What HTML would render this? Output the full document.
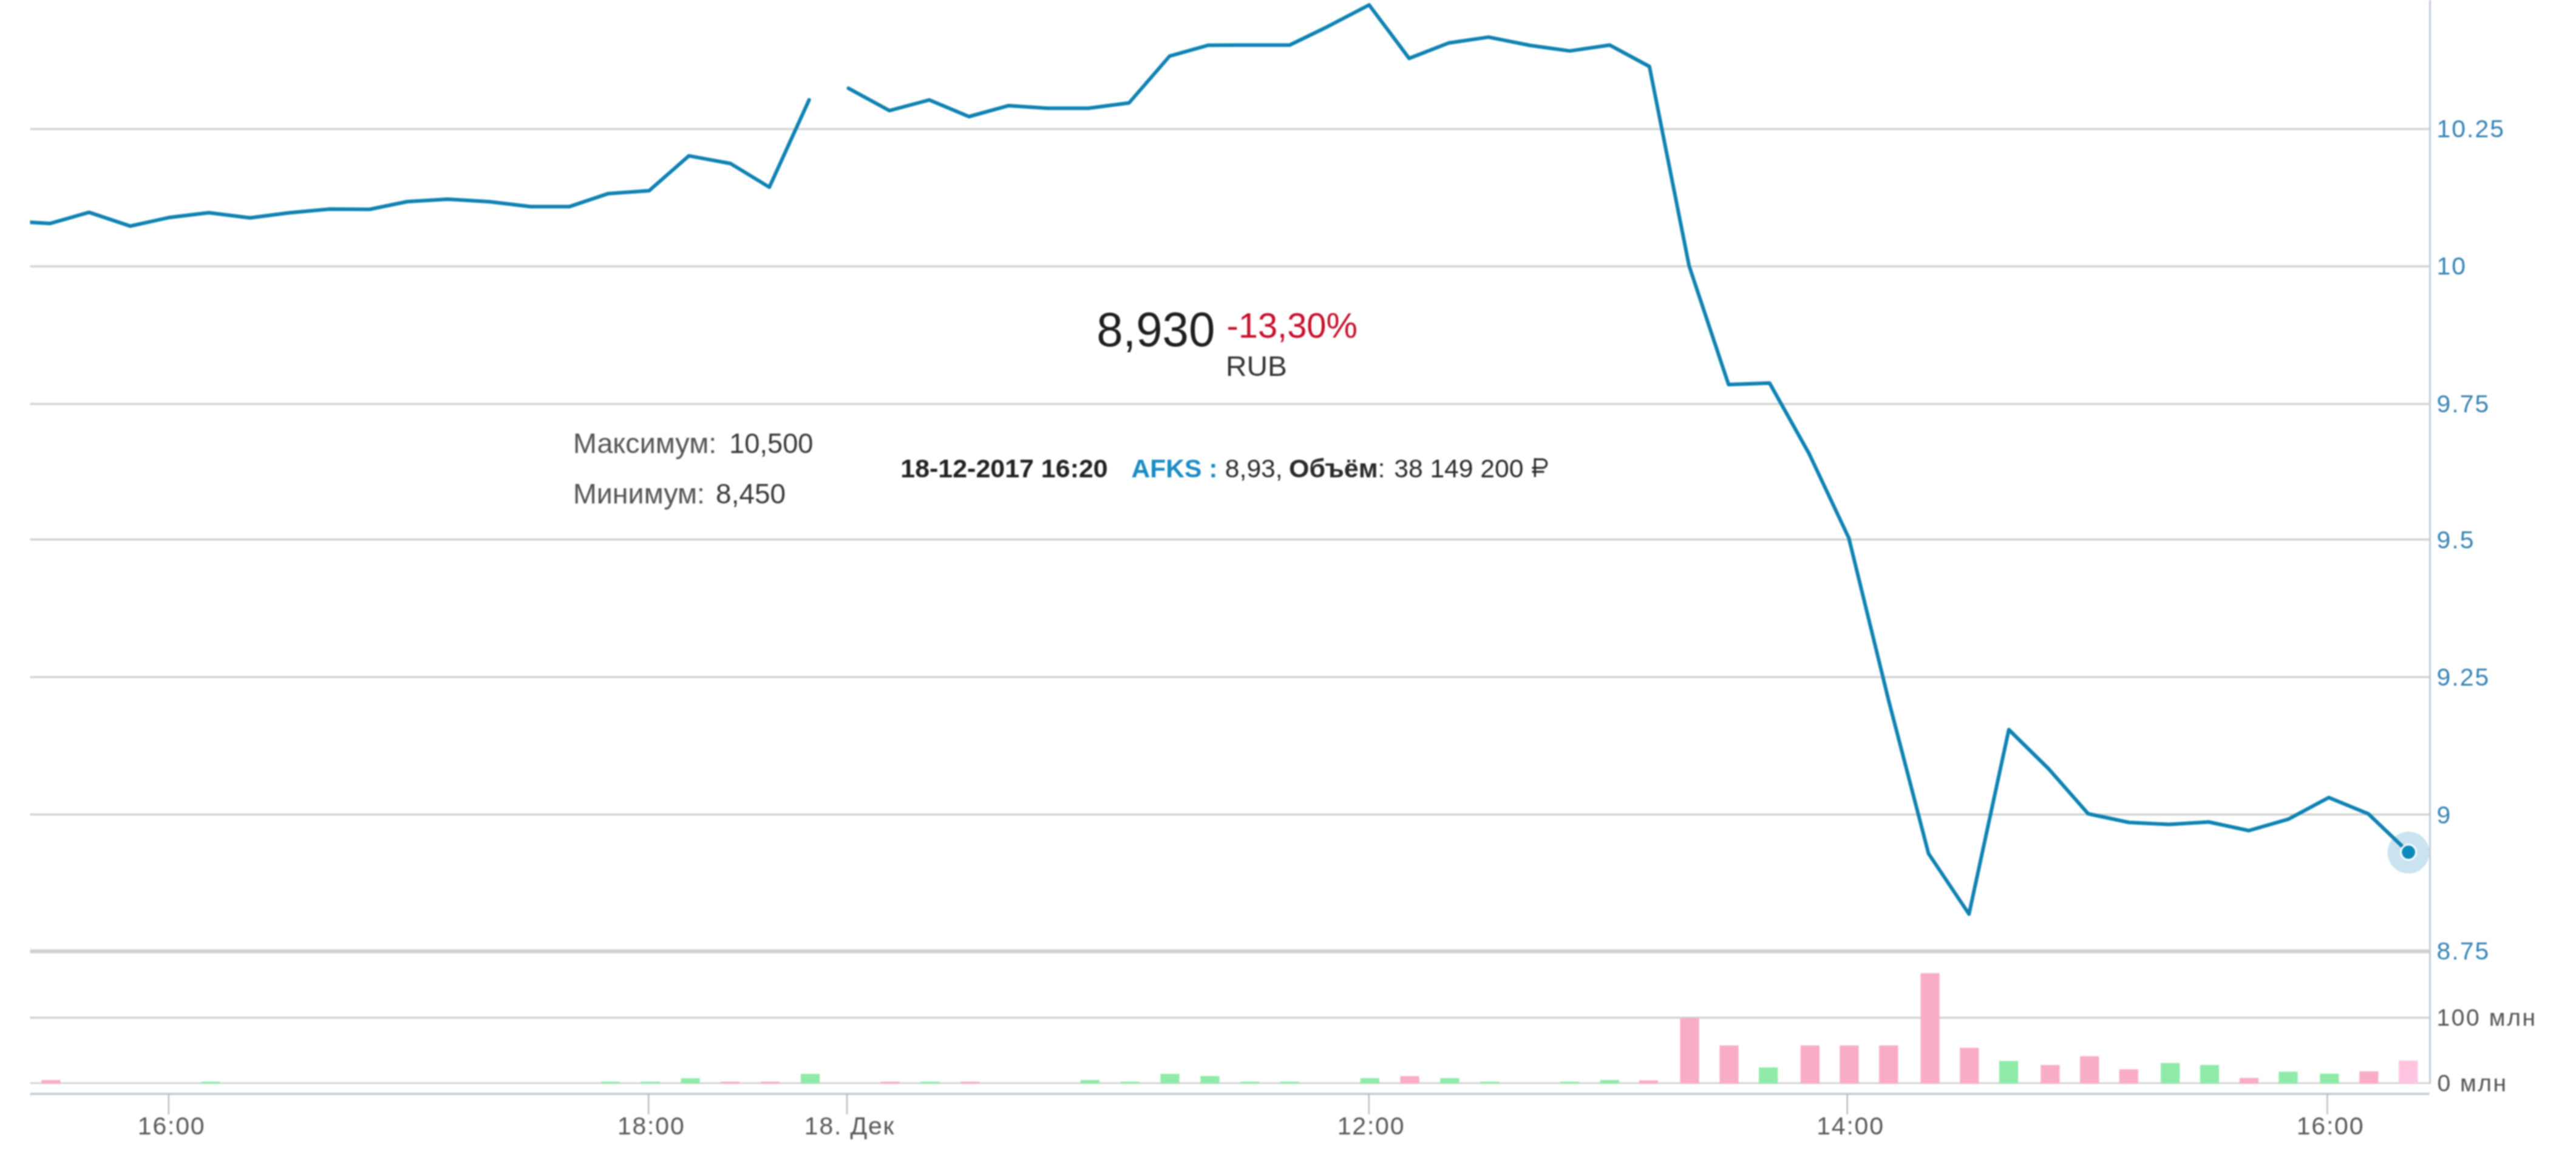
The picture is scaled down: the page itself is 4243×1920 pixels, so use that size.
<!DOCTYPE html>
<html><head><meta charset="utf-8"><title>AFKS chart</title>
<style>html,body{margin:0;padding:0;background:#fff;overflow:hidden}svg{display:block;filter:blur(0.9px)}</style>
</head><body>
<svg width="4243" height="1920" viewBox="0 0 4243 1920">
<rect x="0" y="0" width="4243" height="1920" fill="#ffffff"/>
<rect x="49.5" y="210.8" width="3953.0" height="3.4" fill="#d2d2d2"/>
<rect x="49.5" y="436.9" width="3953.0" height="3.4" fill="#d2d2d2"/>
<rect x="49.5" y="663.5" width="3953.0" height="3.4" fill="#d2d2d2"/>
<rect x="49.5" y="886.7" width="3953.0" height="3.4" fill="#d2d2d2"/>
<rect x="49.5" y="1113.2" width="3953.0" height="3.4" fill="#d2d2d2"/>
<rect x="49.5" y="1339.5" width="3953.0" height="3.4" fill="#d2d2d2"/>
<rect x="49.5" y="1563.4" width="3953.0" height="6.2" fill="#d0d0d0"/>
<rect x="49.5" y="1674.1" width="3953.0" height="3.4" fill="#d2d2d2"/>
<rect x="49.5" y="1782" width="3953.0" height="3" fill="#d6d6d6"/>
<rect x="68.2" y="1778.5" width="31.2" height="6.0" fill="#f9acc8"/>
<rect x="331.5" y="1781.2" width="31.2" height="3.3" fill="#90eaa8"/>
<rect x="989.8" y="1781.2" width="31.2" height="3.3" fill="#90eaa8"/>
<rect x="1055.7" y="1781.2" width="31.2" height="3.3" fill="#90eaa8"/>
<rect x="1121.5" y="1775.5" width="31.2" height="9.0" fill="#90eaa8"/>
<rect x="1187.3" y="1781.2" width="31.2" height="3.3" fill="#f9acc8"/>
<rect x="1253.1" y="1781.2" width="31.2" height="3.3" fill="#f9acc8"/>
<rect x="1319.0" y="1768.3" width="31.2" height="16.2" fill="#90eaa8"/>
<rect x="1450.6" y="1781.2" width="31.2" height="3.3" fill="#f9acc8"/>
<rect x="1516.5" y="1781.2" width="31.2" height="3.3" fill="#90eaa8"/>
<rect x="1582.3" y="1781.2" width="31.2" height="3.3" fill="#f9acc8"/>
<rect x="1779.8" y="1778.4" width="31.2" height="6.1" fill="#90eaa8"/>
<rect x="1845.6" y="1781.2" width="31.2" height="3.3" fill="#90eaa8"/>
<rect x="1911.4" y="1768.3" width="31.2" height="16.2" fill="#90eaa8"/>
<rect x="1977.3" y="1771.9" width="31.2" height="12.6" fill="#90eaa8"/>
<rect x="2043.1" y="1781.2" width="31.2" height="3.3" fill="#90eaa8"/>
<rect x="2108.9" y="1781.2" width="31.2" height="3.3" fill="#90eaa8"/>
<rect x="2240.6" y="1775.3" width="31.2" height="9.2" fill="#90eaa8"/>
<rect x="2306.4" y="1771.9" width="31.2" height="12.6" fill="#f9acc8"/>
<rect x="2372.2" y="1775.3" width="31.2" height="9.2" fill="#90eaa8"/>
<rect x="2438.1" y="1781.2" width="31.2" height="3.3" fill="#90eaa8"/>
<rect x="2569.7" y="1781.2" width="31.2" height="3.3" fill="#90eaa8"/>
<rect x="2635.6" y="1778.4" width="31.2" height="6.1" fill="#90eaa8"/>
<rect x="2699.8" y="1779.0" width="31.2" height="5.5" fill="#f9acc8"/>
<rect x="2767.4" y="1676.0" width="31.2" height="108.5" fill="#f9acc8"/>
<rect x="2832.4" y="1721.4" width="31.2" height="63.1" fill="#f9acc8"/>
<rect x="2897.1" y="1757.6" width="31.2" height="26.9" fill="#90eaa8"/>
<rect x="2965.8" y="1721.4" width="31.2" height="63.1" fill="#f9acc8"/>
<rect x="3030.3" y="1721.4" width="31.2" height="63.1" fill="#f9acc8"/>
<rect x="3095.1" y="1721.4" width="31.2" height="63.1" fill="#f9acc8"/>
<rect x="3163.5" y="1602.5" width="31.2" height="182.0" fill="#f9acc8"/>
<rect x="3228.2" y="1725.3" width="31.2" height="59.2" fill="#f9acc8"/>
<rect x="3292.9" y="1747.0" width="31.2" height="37.5" fill="#90eaa8"/>
<rect x="3361.3" y="1753.7" width="31.2" height="30.8" fill="#f9acc8"/>
<rect x="3426.1" y="1739.2" width="31.2" height="45.3" fill="#f9acc8"/>
<rect x="3490.6" y="1760.8" width="31.2" height="23.7" fill="#f9acc8"/>
<rect x="3559.1" y="1750.4" width="31.2" height="34.1" fill="#90eaa8"/>
<rect x="3623.8" y="1753.7" width="31.2" height="30.8" fill="#90eaa8"/>
<rect x="3688.8" y="1775.0" width="31.2" height="9.5" fill="#f9acc8"/>
<rect x="3753.3" y="1764.7" width="31.2" height="19.8" fill="#90eaa8"/>
<rect x="3821.2" y="1768.0" width="31.2" height="16.5" fill="#90eaa8"/>
<rect x="3886.2" y="1764.1" width="31.2" height="20.4" fill="#f9acc8"/>
<rect x="3951.2" y="1746.4" width="31.2" height="38.1" fill="#ffc4df"/>
<rect x="4001.0" y="0" width="3" height="1785" fill="#c4ccd6"/>
<rect x="49.5" y="1799.5" width="3952.0" height="3.6" fill="#c3cad3"/>
<rect x="276.6" y="1801" width="2.5" height="34" fill="#b9bec6"/>
<rect x="1067.0" y="1801" width="2.5" height="34" fill="#b9bec6"/>
<rect x="1393.8" y="1801" width="2.5" height="34" fill="#b9bec6"/>
<rect x="2253.5" y="1801" width="2.5" height="34" fill="#b9bec6"/>
<rect x="3041.4" y="1801" width="2.5" height="34" fill="#b9bec6"/>
<rect x="3832.1" y="1801" width="2.5" height="34" fill="#b9bec6"/>
<circle cx="3967.1" cy="1403.8" r="34.5" fill="#c9e3f0"/>
<clipPath id="pc"><rect x="49.5" y="0" width="3953" height="1800"/></clipPath>
<g clip-path="url(#pc)"><polyline points="17.1,364.0 82.9,367.9 146.7,349.7 214.7,372.3 279.9,357.9 343.8,350.3 411.7,358.7 475.5,350.5 543.5,344.3 608.7,344.8 670.8,332.0 737.3,328.0 807.2,332.3 874.2,340.2 938.2,340.2 1002.3,318.7 1069.2,314.0 1134.8,256.6 1203.2,269.2 1267.2,308.2 1332.7,164.4" fill="none" stroke="#0f82b2" stroke-width="6" stroke-linejoin="round" stroke-linecap="round"/>
<polyline points="1397.5,145.4 1465.0,182.1 1530.5,164.6 1596.0,192.0 1661.5,173.9 1725.6,178.3 1792.5,178.3 1859.5,169.6 1926.5,92.4 1990.5,74.4 2057.8,74.3 2124.2,74.2 2187.0,43.7 2255.2,8.2 2321.0,96.1 2386.3,70.7 2451.8,61.1 2520.2,74.8 2585.7,83.9 2651.2,74.2 2716.8,109.5 2782.2,437.9 2847.2,633.3 2914.7,630.8 2979.8,747.0 3045.2,885.7 3111.0,1154.0 3176.6,1405.7 3243.2,1505.2 3308.8,1201.5 3374.4,1266.0 3439.5,1340.0 3506.6,1354.2 3572.9,1357.6 3638.0,1353.5 3704.3,1367.7 3769.4,1348.8 3835.7,1313.3 3900.8,1340.0 3967.1,1403.3" fill="none" stroke="#0f82b2" stroke-width="6" stroke-linejoin="round" stroke-linecap="round"/></g>
<circle cx="3967.1" cy="1403.3" r="12.5" fill="#0e89bd" stroke="#ffffff" stroke-width="3"/>
<text x="4013.5" y="226.4" font-family="Liberation Sans, sans-serif" font-size="41" fill="#3683b3" letter-spacing="2.0">10.25</text>
<text x="4013.5" y="452.3" font-family="Liberation Sans, sans-serif" font-size="41" fill="#3683b3" letter-spacing="2.0">10</text>
<text x="4013.5" y="679.2" font-family="Liberation Sans, sans-serif" font-size="41" fill="#3683b3" letter-spacing="2.0">9.75</text>
<text x="4013.5" y="902.6" font-family="Liberation Sans, sans-serif" font-size="41" fill="#3683b3" letter-spacing="2.0">9.5</text>
<text x="4013.5" y="1129" font-family="Liberation Sans, sans-serif" font-size="41" fill="#3683b3" letter-spacing="2.0">9.25</text>
<text x="4013.5" y="1355.9" font-family="Liberation Sans, sans-serif" font-size="41" fill="#3683b3" letter-spacing="2.0">9</text>
<text x="4013.5" y="1580.1" font-family="Liberation Sans, sans-serif" font-size="41" fill="#3683b3" letter-spacing="2.0">8.75</text>
<text x="4013.5" y="1689" font-family="Liberation Sans, sans-serif" font-size="39" fill="#545454" letter-spacing="2.6">100 млн</text>
<text x="4014.5" y="1797" font-family="Liberation Sans, sans-serif" font-size="39" fill="#545454" letter-spacing="2.5">0 млн</text>
<text x="282.6" y="1868" font-family="Liberation Sans, sans-serif" font-size="41" fill="#585858" letter-spacing="1.8" text-anchor="middle">16:00</text>
<text x="1072.7" y="1868" font-family="Liberation Sans, sans-serif" font-size="41" fill="#585858" letter-spacing="1.8" text-anchor="middle">18:00</text>
<text x="1399.6" y="1868" font-family="Liberation Sans, sans-serif" font-size="41" fill="#585858" letter-spacing="1.8" text-anchor="middle">18. Дек</text>
<text x="2258.5" y="1868" font-family="Liberation Sans, sans-serif" font-size="41" fill="#585858" letter-spacing="1.8" text-anchor="middle">12:00</text>
<text x="3048" y="1868" font-family="Liberation Sans, sans-serif" font-size="41" fill="#585858" letter-spacing="1.8" text-anchor="middle">14:00</text>
<text x="3838.5" y="1868" font-family="Liberation Sans, sans-serif" font-size="41" fill="#585858" letter-spacing="1.8" text-anchor="middle">16:00</text>
<text x="1806.2" y="570.4" font-family="Liberation Sans, sans-serif" font-size="80" fill="#1e1e1e" textLength="195.1" lengthAdjust="spacingAndGlyphs">8,930</text>
<text x="2020.5" y="555.5" font-family="Liberation Sans, sans-serif" font-size="57" fill="#c4102c" textLength="215.5" lengthAdjust="spacingAndGlyphs">-13,30%</text>
<text x="2018.9" y="618.8" font-family="Liberation Sans, sans-serif" font-size="47" fill="#333333" textLength="100.9" lengthAdjust="spacingAndGlyphs">RUB</text>
<text x="944.0" y="746" font-family="Liberation Sans, sans-serif" font-size="47" fill="#555555" textLength="236.2" lengthAdjust="spacingAndGlyphs">Максимум:</text>
<text x="1201.2" y="746" font-family="Liberation Sans, sans-serif" font-size="46.5" fill="#3a3a3a" textLength="138.3" lengthAdjust="spacingAndGlyphs">10,500</text>
<text x="944.0" y="828.5" font-family="Liberation Sans, sans-serif" font-size="47" fill="#555555" textLength="217.0" lengthAdjust="spacingAndGlyphs">Минимум:</text>
<text x="1179.1" y="828.5" font-family="Liberation Sans, sans-serif" font-size="46.5" fill="#3a3a3a" textLength="114.9" lengthAdjust="spacingAndGlyphs">8,450</text>
<text x="1483.3" y="785.5" font-family="Liberation Sans, sans-serif" font-size="43" fill="#222222" font-weight="bold" textLength="341.4" lengthAdjust="spacingAndGlyphs">18-12-2017 16:20</text>
<text x="1863.5" y="785.5" font-family="Liberation Sans, sans-serif" font-size="43" fill="#1a8cc4" font-weight="bold" textLength="141.9" lengthAdjust="spacingAndGlyphs">AFKS :</text>
<text x="2017.8" y="785.5" font-family="Liberation Sans, sans-serif" font-size="43" fill="#2a2a2a" textLength="94.9" lengthAdjust="spacingAndGlyphs">8,93,</text>
<text x="2123" y="785.5" font-family="Liberation Sans, sans-serif" font-size="43" fill="#2a2a2a" ><tspan font-weight="bold">Объём</tspan>:</text>
<text x="2296.2" y="785.5" font-family="Liberation Sans, sans-serif" font-size="43" fill="#2a2a2a" textLength="213.2" lengthAdjust="spacingAndGlyphs">38 149 200</text>
<path d="M2528.3,754.5 V785.5 M2526.5,756.3 H2540.6 A7,7 0 0 1 2540.6,770.4 H2523.4 M2523.4,776.8 H2543.4" fill="none" stroke="#2a2a2a" stroke-width="3.3"/>
</svg>
</body></html>
